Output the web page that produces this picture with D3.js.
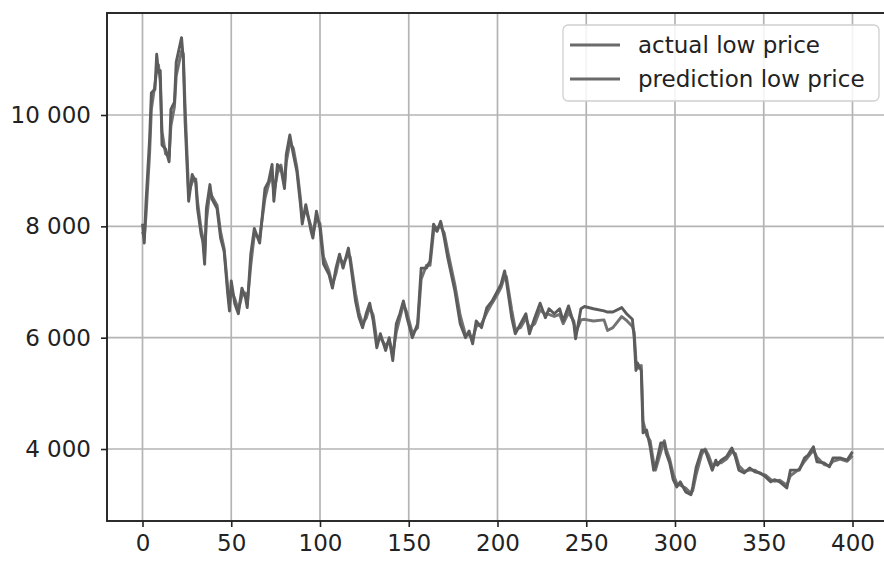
<!DOCTYPE html>
<html>
<head>
<meta charset="utf-8">
<script src="https://cdn.jsdelivr.net/npm/d3@7"></script>
<style>
  body { margin: 0; background: #fff; }
  svg { display: block; }
  text { font-family: "DejaVu Sans", sans-serif; fill: #222; }
</style>
</head>
<body>
<svg id="chart" width="884" height="562"></svg>
<script>
// day index of each reading
const days = [
  0,1,2,4,5,7,8,9,10,11,
  13,15,16,18,19,22,23,24,26,28,
  30,31,33,34,35,36,38,39,42,44,
  46,48,49,50,52,54,56,58,59,61,
  63,66,69,71,73,74,76,78,80,81,
  83,85,87,89,90,92,95,96,98,100,
  102,105,107,109,111,113,116,117,120,122,
  124,126,128,130,132,134,137,139,141,143,
  145,147,149,152,155,157,160,162,164,166,
  168,170,172,176,179,182,184,186,188,191,
  194,197,200,202,204,205,208,210,213,216,
  218,221,224,227,229,232,235,237,240,243,
  244,247,249,254,260,262,265,270,273,276,
  277,278,279,281,282,284,286,288,289,292,
  294,295,297,299,301,303,306,309,310,312,
  315,317,319,321,323,324,326,329,332,334,
  336,339,342,345,348,351,354,356,359,363,
  365,370,373,375,378,380,384,387,389,393,
  397,400
];

const actualLow = [
  8050,7700,8450,9570,10400,10460,11090,10770,10800,9460,
  9390,9160,10100,10230,10950,11390,11000,9880,8450,8930,
  8800,8320,7860,7730,7320,8320,8750,8500,8320,7790,
  7550,6790,6480,7020,6610,6430,6890,6720,6540,7500,
  7960,7700,8680,8800,9110,8450,9110,9040,8680,9290,
  9640,9290,8980,8390,8040,8390,7910,7790,8270,7960,
  7320,7140,6890,7250,7500,7250,7610,7380,6660,6360,
  6180,6430,6620,6300,5820,6070,5770,6000,5590,6250,
  6430,6660,6360,6000,6250,7250,7250,7380,8040,7910,
  8090,7790,7430,6840,6250,6000,6120,5890,6300,6180,
  6540,6660,6840,6960,7200,7020,6360,6070,6250,6430,
  6070,6360,6620,6360,6520,6430,6520,6300,6570,6250,
  5980,6520,6560,6520,6480,6460,6460,6540,6420,6330,
  6000,5410,5540,5410,4290,4340,4040,3620,3680,4110,
  4110,3930,3750,3450,3320,3410,3230,3180,3320,3680,
  3980,3980,3800,3620,3800,3710,3800,3860,4020,3860,
  3620,3570,3660,3590,3570,3500,3410,3450,3410,3300,
  3620,3620,3840,3890,4040,3770,3750,3680,3840,3840,
  3800,3950
];

const predLow = [
  7900,7800,8200,9300,10100,10550,10800,10900,10600,9700,
  9300,9250,9800,10150,10700,11150,11100,10150,8600,8800,
  8850,8450,7950,7800,7450,8100,8650,8550,8380,7900,
  7600,6900,6600,6850,6700,6500,6750,6800,6600,7300,
  7850,7800,8500,8750,8950,8600,8950,9100,8750,9150,
  9500,9400,9050,8500,8150,8300,8000,7850,8150,8050,
  7450,7200,6950,7150,7450,7320,7500,7450,6800,6450,
  6250,6350,6550,6400,5950,6000,5850,5950,5700,6100,
  6350,6600,6450,6080,6180,7050,7300,7300,7900,7980,
  8000,7880,7550,6950,6400,6050,6050,5980,6200,6250,
  6450,6620,6780,6900,7100,7100,6500,6150,6180,6350,
  6180,6250,6500,6420,6420,6380,6420,6250,6450,6300,
  6080,6320,6330,6300,6320,6130,6180,6380,6300,6200,
  6100,5600,5450,5500,4500,4250,4150,3750,3620,3950,
  4150,4000,3820,3550,3380,3350,3300,3200,3250,3550,
  3900,4000,3880,3700,3720,3760,3750,3820,3950,3920,
  3700,3600,3620,3620,3560,3530,3450,3420,3440,3350,
  3520,3640,3780,3860,3980,3850,3720,3700,3780,3820,
  3780,3880
];

const xTicks = [0, 50, 100, 150, 200, 250, 300, 350, 400];
const yTicks = [4000, 6000, 8000, 10000];
const seriesNames = ["actual low price", "prediction low price"];
const seriesColors = ["#5c5c5c", "#737373"];

const svg = d3.select("#chart");
const plotLeft = 107, plotRight = 888, plotTop = 13, plotBottom = 521;

const x = d3.scaleLinear().domain([-20, 420]).range([plotLeft, plotRight]);
const y = d3.scaleLinear().domain([2707, 11832]).range([plotBottom, plotTop]);

const fmt = d3.formatLocale({ decimal: ".", thousands: " ", grouping: [3], currency: ["", ""] }).format(",d");

// grid
const grid = svg.append("g").attr("stroke", "#b4b4b4").attr("stroke-width", 1.7);
xTicks.forEach(t => {
  grid.append("line").attr("x1", x(t)).attr("x2", x(t)).attr("y1", plotTop).attr("y2", plotBottom);
});
yTicks.forEach(t => {
  grid.append("line").attr("x1", plotLeft).attr("x2", plotRight).attr("y1", y(t)).attr("y2", y(t));
});

// series lines
const rows = days.map((d, i) => ({ day: d, actual: actualLow[i], pred: predLow[i] }));
const line = key => d3.line().x(d => x(d.day)).y(d => y(d[key]));

svg.append("path").datum(rows)
  .attr("d", line("pred"))
  .attr("fill", "none")
  .attr("stroke", seriesColors[1])
  .attr("stroke-width", 2.9)
  .attr("stroke-linejoin", "round");

svg.append("path").datum(rows)
  .attr("d", line("actual"))
  .attr("fill", "none")
  .attr("stroke", seriesColors[0])
  .attr("stroke-width", 2.9)
  .attr("stroke-linejoin", "round");

// axes
const xAxis = svg.append("g")
  .attr("transform", `translate(0,${plotBottom})`)
  .call(d3.axisBottom(x).tickValues(xTicks).tickSize(6).tickPadding(8).tickFormat(d3.format("d")));
const yAxis = svg.append("g")
  .attr("transform", `translate(${plotLeft},0)`)
  .call(d3.axisLeft(y).tickValues(yTicks).tickSize(6).tickPadding(10).tickFormat(fmt));

[xAxis, yAxis].forEach(ax => {
  ax.select(".domain").remove();
  ax.selectAll(".tick line").attr("stroke", "#222").attr("stroke-width", 1.6);
  ax.selectAll(".tick text")
    .attr("fill", "#222")
    .style("font-family", "'DejaVu Sans', sans-serif")
    .style("font-size", "23px");
});

// spines
svg.append("rect")
  .attr("x", plotLeft).attr("y", plotTop)
  .attr("width", plotRight - plotLeft).attr("height", plotBottom - plotTop)
  .attr("fill", "none")
  .attr("stroke", "#222")
  .attr("stroke-width", 1.9);

// legend
const lg = svg.append("g");
lg.append("rect")
  .attr("x", 563).attr("y", 25)
  .attr("width", 316).attr("height", 76)
  .attr("rx", 5)
  .attr("fill", "#fff").attr("fill-opacity", 0.85)
  .attr("stroke", "#d0d0d0").attr("stroke-width", 1.3);

seriesNames.forEach((name, i) => {
  const ly = 45 + i * 34;
  lg.append("line")
    .attr("x1", 570).attr("x2", 620)
    .attr("y1", ly).attr("y2", ly)
    .attr("stroke", "#6a6a6a").attr("stroke-width", 2.9);
  lg.append("text")
    .attr("x", 638).attr("y", ly)
    .attr("dy", "0.35em")
    .style("font-size", "23px")
    .text(name);
});
</script>
</body>
</html>
